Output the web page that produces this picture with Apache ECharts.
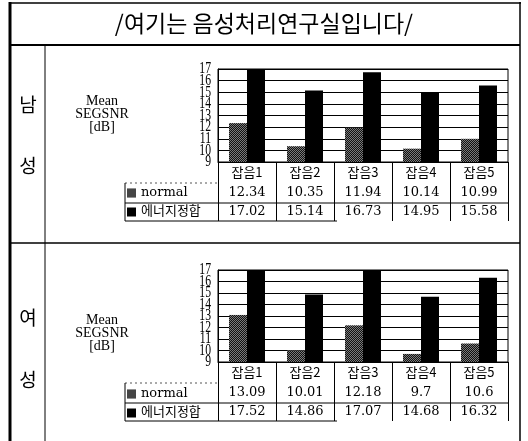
<!DOCTYPE html>
<html><head><meta charset="utf-8">
<script src="https://cdn.jsdelivr.net/npm/echarts/dist/echarts.min.js"></script>
<style>html,body{margin:0;padding:0;background:#fff}#c{width:528px;height:441px}</style>
</head><body><div id="c"></div>
<script>
// ---- data ----
const categories = ['잡음1', '잡음2', '잡음3', '잡음4', '잡음5'];
const seriesNames = ['normal', '에너지정합'];
const maleNormal = [12.34, 10.35, 11.94, 10.14, 10.99];
const maleEnergy = [17.02, 15.14, 16.73, 14.95, 15.58];
const femaleNormal = [13.09, 10.01, 12.18, 9.7, 10.6];
const femaleEnergy = [17.52, 14.86, 17.07, 14.68, 16.32];
const yTicks = [9, 10, 11, 12, 13, 14, 15, 16, 17];
const titleText = '/여기는 음성처리연구실입니다/';
const maleLabel = ['남', '성'];
const femaleLabel = ['여', '성'];
const yAxisTitle = ['Mean', 'SEGSNR', '[dB]'];

// ---- layout ----
const W = 528, H = 441;
const plotL = 218, plotR = 508;
const panels = [
  { top: 69, bottom: 162, normal: maleNormal, energy: maleEnergy, side: maleLabel, sideY: [105, 166], titleY: 95, legendTop: 186 },
  { top: 270, bottom: 362, normal: femaleNormal, energy: femaleEnergy, side: femaleLabel, sideY: [318, 380], titleY: 314, legendTop: 387 }
];
const rowH = [21, 20, 18];
const serif = '"DejaVu Serif", "Noto Sans CJK KR"';
const kr = '"Noto Sans CJK KR"';

const chart = echarts.init(document.getElementById('c'), null, { renderer: 'canvas' });

const grids = [], xAxes = [], yAxes = [], series = [], legends = [], graphics = [];
panels.forEach((p, i) => {
  grids.push({ left: plotL, right: W - plotR, top: p.top, height: p.bottom - p.top, show: true, borderColor: '#000', borderWidth: 1, backgroundColor: 'transparent' });
  xAxes.push({
    type: 'category', gridIndex: i, data: categories,
    axisLine: { lineStyle: { color: '#000', width: 1 } },
    axisTick: { show: true, interval: 0, length: rowH[0] + rowH[1] + rowH[2], lineStyle: { color: '#000', width: 1 } },
    axisLabel: {
      interval: 0, margin: 0,
      formatter: (v, idx) => `{c|${v}}\n{n|${p.normal[idx]}}\n{e|${p.energy[idx]}}`,
      rich: {
        c: { fontFamily: kr, fontSize: 13, lineHeight: rowH[0], color: '#000' },
        n: { fontFamily: serif, fontSize: 13, lineHeight: rowH[1], color: '#000' },
        e: { fontFamily: serif, fontSize: 13, lineHeight: rowH[2], color: '#000' }
      }
    }
  });
  yAxes.push({
    type: 'value', gridIndex: i, min: yTicks[0], max: yTicks[yTicks.length - 1], interval: 1,
    axisLine: { show: true, lineStyle: { color: '#000' } },
    axisTick: { show: false },
    axisLabel: { show: false },
    splitLine: { show: true, lineStyle: { color: '#000', width: 1 } }
  });
  series.push({
    name: seriesNames[0], type: 'bar', xAxisIndex: i, yAxisIndex: i, data: p.normal,
    barWidth: 18, barGap: '0%', clip: true,
    itemStyle: { color: '#7a7a7a', decal: { symbol: 'rect', symbolSize: 1, dashArrayX: [[1, 1], [0, 1, 1, 0]], dashArrayY: [1, 0], color: '#111' } }
  });
  series.push({
    name: seriesNames[1], type: 'bar', xAxisIndex: i, yAxisIndex: i, data: p.energy,
    barWidth: 18, barGap: '0%', clip: true,
    itemStyle: { color: '#000' }
  });
  legends.push({
    data: seriesNames, orient: 'vertical', left: 127, top: p.legendTop, padding: 0,
    itemWidth: 9, itemHeight: 9, itemGap: 5, icon: 'rect', selectedMode: false,
    textStyle: { fontFamily: serif, fontSize: 13, lineHeight: 14, color: '#000' }
  });
  const y0 = p.bottom, y1 = y0 + rowH[0], y2 = y1 + rowH[1], y3 = y2 + rowH[2];
  graphics.push(
    { type: 'line', shape: { x1: 125, y1: y1, x2: plotL, y2: y1 }, style: { stroke: '#555', lineWidth: 1, lineDash: [2, 3] } },
    { type: 'line', shape: { x1: 125, y1: y2, x2: plotR, y2: y2 }, style: { stroke: '#000', lineWidth: 1 } },
    { type: 'line', shape: { x1: 125, y1: y3, x2: 337, y2: y3 }, style: { stroke: '#000', lineWidth: 1 } },
    { type: 'line', shape: { x1: 125, y1: y1, x2: 125, y2: y3 }, style: { stroke: '#000', lineWidth: 1 } },
    { type: 'text', x: 28, y: p.sideY[0], style: { text: p.side[0], font: '19px "Noto Sans CJK KR"', fill: '#000', align: 'center', verticalAlign: 'middle' } },
    { type: 'text', x: 28, y: p.sideY[1], style: { text: p.side[1], font: '19px "Noto Sans CJK KR"', fill: '#000', align: 'center', verticalAlign: 'middle' } },
    { type: 'text', x: 102, y: p.titleY, style: { text: yAxisTitle.join('\n'), font: '14px "Liberation Serif"', lineHeight: 13, fill: '#000', align: 'center', verticalAlign: 'top' } }
  );
});

graphics.push(
  { type: 'line', shape: { x1: 9, y1: 3, x2: 521, y2: 3 }, style: { stroke: '#000', lineWidth: 1.5 } },
  { type: 'line', shape: { x1: 10, y1: 2, x2: 10, y2: H }, style: { stroke: '#000', lineWidth: 3 } },
  { type: 'line', shape: { x1: 520, y1: 2, x2: 520, y2: H }, style: { stroke: '#000', lineWidth: 1.5 } },
  { type: 'line', shape: { x1: 10, y1: 45, x2: 520, y2: 45 }, style: { stroke: '#000', lineWidth: 2 } },
  { type: 'line', shape: { x1: 45, y1: 46, x2: 45, y2: H }, style: { stroke: '#000', lineWidth: 1 } },
  { type: 'line', shape: { x1: 10, y1: 243, x2: 520, y2: 243 }, style: { stroke: '#000', lineWidth: 1.5 } },
  { type: 'text', x: 264, y: 23, style: { text: titleText, font: '23px "Noto Sans CJK KR"', fill: '#000', align: 'center', verticalAlign: 'middle' } }
);

chart.setOption({
  animation: false,
  backgroundColor: '#fff',
  grid: grids, xAxis: xAxes, yAxis: yAxes, series: series, legend: legends
});

// y tick labels placed through the library's own y scale
panels.forEach((p, i) => {
  yTicks.forEach(t => {
    const py = chart.convertToPixel({ yAxisIndex: i }, t);
    graphics.push({
      type: 'text', x: 211, y: py, scaleX: 0.9, scaleY: 1.25,
      style: { text: String(t), font: '13px "Liberation Serif"', fill: '#000', align: 'right', verticalAlign: 'middle' }
    });
  });
});
chart.setOption({ graphic: graphics });
</script></body></html>
